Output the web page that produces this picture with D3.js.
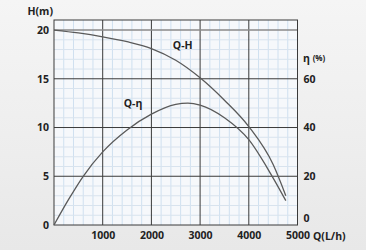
<!DOCTYPE html>
<html>
<head>
<meta charset="utf-8">
<script src="https://cdn.jsdelivr.net/npm/d3@7"></script>
<style>
  body { margin: 0; background: #ececec; }
  svg { display: block; font-family: "Open Sans", sans-serif; }
</style>
</head>
<body>
<svg width="366" height="250"></svg>
<script>
// flow (L/h) and head (m) for Q-H
let flowH = [0, 500, 1000, 1500, 2000, 2500, 3000, 3500, 4000, 4500, 4760];
let head = [20, 19.7, 19.3, 18.8, 18.1, 16.9, 15.1, 12.8, 10.1, 6.2, 3.0];

// flow (L/h) and efficiency (%) for Q-eta
let flowE = [0, 300, 600, 1000, 1500, 2000, 2500, 2750, 3000, 3500, 4000, 4450, 4760];
let eff = [0, 10.5, 20, 30, 39, 45.5, 49.5, 50, 49.2, 44, 35, 21, 10];

let xTicks = [1000, 2000, 3000, 4000, 5000];
let hTicks = [0, 5, 10, 15, 20];
let eTicks = [0, 20, 40, 60];

let svg = d3.select("svg");
let margin = {left: 54, right: 68.5, top: 20, bottom: 25};
let width = 366 - margin.left - margin.right,
  height = 250 - margin.top - margin.bottom;

let x = d3.scaleLinear().domain([0, 5000]).range([0, width]);
let y = d3.scaleLinear().domain([0, 21.03]).range([height, 0]);
let yE = d3.scaleLinear().domain([0, 21.03 * 4]).range([height, 0]);

// page gradient
let defs = svg.append("defs");
let grad = defs.append("linearGradient").attr("id", "bg").attr("x1", 0).attr("y1", 0).attr("x2", 0).attr("y2", 1);
grad.append("stop").attr("offset", "0%").attr("stop-color", "#f5f5f5");
grad.append("stop").attr("offset", "100%").attr("stop-color", "#e8e8e8");
svg.append("rect").attr("width", 366).attr("height", 250).attr("fill", "url(#bg)");

let g = svg.append("g").attr("transform", "translate(" + margin.left + "," + margin.top + ")");

g.append("rect").attr("width", width).attr("height", height).attr("fill", "#f6f8fb");

// minor grid
g.append("g").selectAll("line")
  .data(d3.range(200, 5000, 200).filter(function(d) { return d % 1000 != 0; }))
  .enter().append("line")
  .attr("x1", function(d) { return x(d); }).attr("x2", function(d) { return x(d); })
  .attr("y1", 0).attr("y2", height)
  .attr("stroke", "#cfe0f0").attr("stroke-width", 1);

g.append("g").selectAll("line")
  .data(d3.range(1, 21, 1).filter(function(d) { return d % 5 != 0; }))
  .enter().append("line")
  .attr("x1", 0).attr("x2", width)
  .attr("y1", function(d) { return y(d); }).attr("y2", function(d) { return y(d); })
  .attr("stroke", "#d8e3ee").attr("stroke-width", 1);

// major grid
g.append("g").selectAll("line")
  .data([1000, 2000, 3000, 4000])
  .enter().append("line")
  .attr("x1", function(d) { return x(d); }).attr("x2", function(d) { return x(d); })
  .attr("y1", 0).attr("y2", height)
  .attr("stroke", "#3a3a3a").attr("stroke-width", 1);

g.append("g").selectAll("line")
  .data([5, 10, 15])
  .enter().append("line")
  .attr("x1", 0).attr("x2", width)
  .attr("y1", function(d) { return y(d); }).attr("y2", function(d) { return y(d); })
  .attr("stroke", "#3a3a3a").attr("stroke-width", 1);

g.append("line")
  .attr("x1", 0).attr("x2", width).attr("y1", y(20)).attr("y2", y(20))
  .attr("stroke", "#8a8a8a").attr("stroke-width", 1.5);

// frame
g.append("rect").attr("width", width).attr("height", height)
  .attr("fill", "none").attr("stroke", "#3a3a3a").attr("stroke-width", 1);

// curves
let lineH = d3.line()
  .x(function(d, i) { return x(flowH[i]); })
  .y(function(d) { return y(d); })
  .curve(d3.curveMonotoneX);

let lineE = d3.line()
  .x(function(d, i) { return x(flowE[i]); })
  .y(function(d) { return yE(d); })
  .curve(d3.curveMonotoneX);

g.append("path").datum(head).attr("d", lineH)
  .attr("fill", "none").attr("stroke", "#5a5a5a").attr("stroke-width", 1.3);
g.append("path").datum(eff).attr("d", lineE)
  .attr("fill", "none").attr("stroke", "#5a5a5a").attr("stroke-width", 1.3);

// axes
let axisStyle = function(sel) {
  sel.select(".domain").remove();
  sel.selectAll(".tick line").remove();
  sel.selectAll("text").attr("font-size", 10.5).attr("font-weight", 700)
    .attr("font-family", "Open Sans, sans-serif").attr("fill", "#222");
};

g.append("g").attr("transform", "translate(0," + height + ")")
  .call(d3.axisBottom(x).tickValues(xTicks).tickFormat(d3.format("d")).tickSize(0).tickPadding(7))
  .call(axisStyle);

g.append("g")
  .call(d3.axisLeft(y).tickValues(hTicks).tickSize(0).tickPadding(5))
  .call(axisStyle);

let right = g.append("g").attr("transform", "translate(" + width + ",0)")
  .call(d3.axisRight(yE).tickValues(eTicks).tickSize(0).tickPadding(6))
  .call(axisStyle);
right.selectAll(".tick").filter(function(d) { return d == 0; })
  .select("text").attr("dy", "-0.35em");

// labels
let label = function(sel) {
  sel.attr("font-size", 10.5).attr("font-weight", 700).attr("fill", "#222");
};
svg.append("text").attr("x", 53).attr("y", 15).attr("text-anchor", "end").call(label).text("H(m)");
svg.append("text").attr("x", 313).attr("y", 240).call(label).text("Q(L/h)");
let eta = svg.append("text").attr("x", 303).attr("y", 62).call(label);
eta.append("tspan").text("η ");
eta.append("tspan").attr("font-size", 8).attr("dy", -1).text("(%)");

g.append("text").attr("x", x(2440)).attr("y", y(18.1)).call(label).text("Q-H");
g.append("text").attr("x", x(1430)).attr("y", y(12.1)).call(label).text("Q-η");
</script>
</body>
</html>
